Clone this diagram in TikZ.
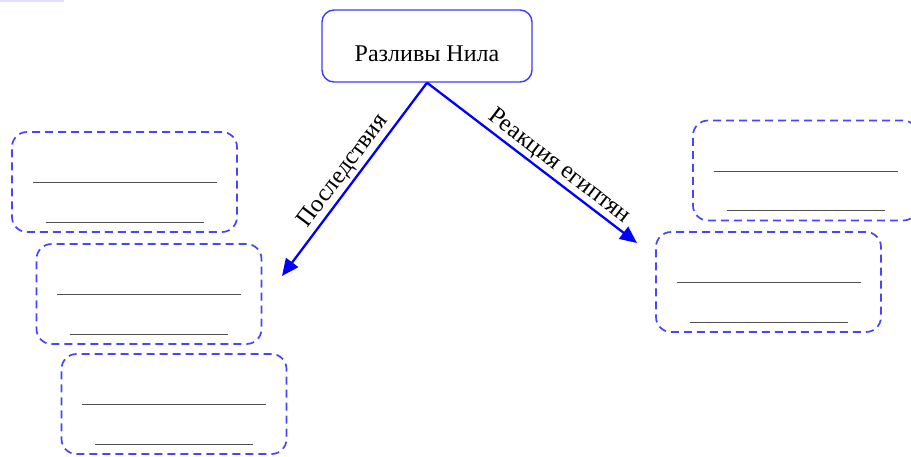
\documentclass[tikz,border=0pt]{standalone}
\usepackage{fontspec}
\setmainfont{Liberation Serif}
\usetikzlibrary{arrows.meta}

\definecolor{boxblue}{RGB}{60,60,255}
\definecolor{dashblue}{RGB}{70,70,255}
\definecolor{blankgray}{RGB}{80,80,80}

\tikzset{
  topbox/.style={draw=boxblue, line width=1.4pt, rounded corners=12pt,
    minimum width=210pt, minimum height=72pt, inner sep=0pt,
    text height=30pt, text depth=0pt, font=\fontsize{24}{28}\selectfont},
  blankbox/.style={draw=dashblue, line width=1.7pt, rounded corners=15pt,
    dash pattern=on 8pt off 5pt, minimum width=225pt, minimum height=100pt},
  blankline/.style={draw=blankgray, line width=0.9pt},
  branch/.style={draw=blue, line width=2.3pt, -{Triangle[length=17pt,width=15pt]}},
  branchlabel/.style={font=\fontsize{24.5}{28}\selectfont, sloped, above, inner sep=2pt}
}

% two blank lines for the pupil to fill in
\newcommand{\blanks}[1]{%
  \draw[blankline] ([shift={(-92,0.5)}]#1.center) -- ++(184,0);
  \draw[blankline] ([shift={(-79,40)}]#1.center) -- ++(158,0);
}

\begin{document}
\begin{tikzpicture}[x=1pt,y=-1pt]
\useasboundingbox (0,0) rectangle (911,456);
\fill[blue!12] (0,0) rectangle (64,2);

\node[topbox] (nile) at (427,46) {Разливы Нила};

% consequences (left)
\node[blankbox] (cons1) at (124.5,182) {};
\node[blankbox] (cons2) at (149,294) {};
\node[blankbox] (cons3) at (174,404) {};
\blanks{cons1}
\blanks{cons2}
\blanks{cons3}

% reaction (right)
\node[blankbox] (react1) at (805.5,170.5) {};
\node[blankbox] (react2) at (768.5,282) {};
\blanks{react1}
\blanks{react2}

\coordinate (consend) at (282,276);
\coordinate (reactend) at (637,243);

\draw[branch] (nile.south) -- node[branchlabel] {Последствия} (consend);
\draw[branch] (nile.south) -- node[branchlabel, pos=0.59] {Реакция египтян} (reactend);
\end{tikzpicture}
\end{document}
